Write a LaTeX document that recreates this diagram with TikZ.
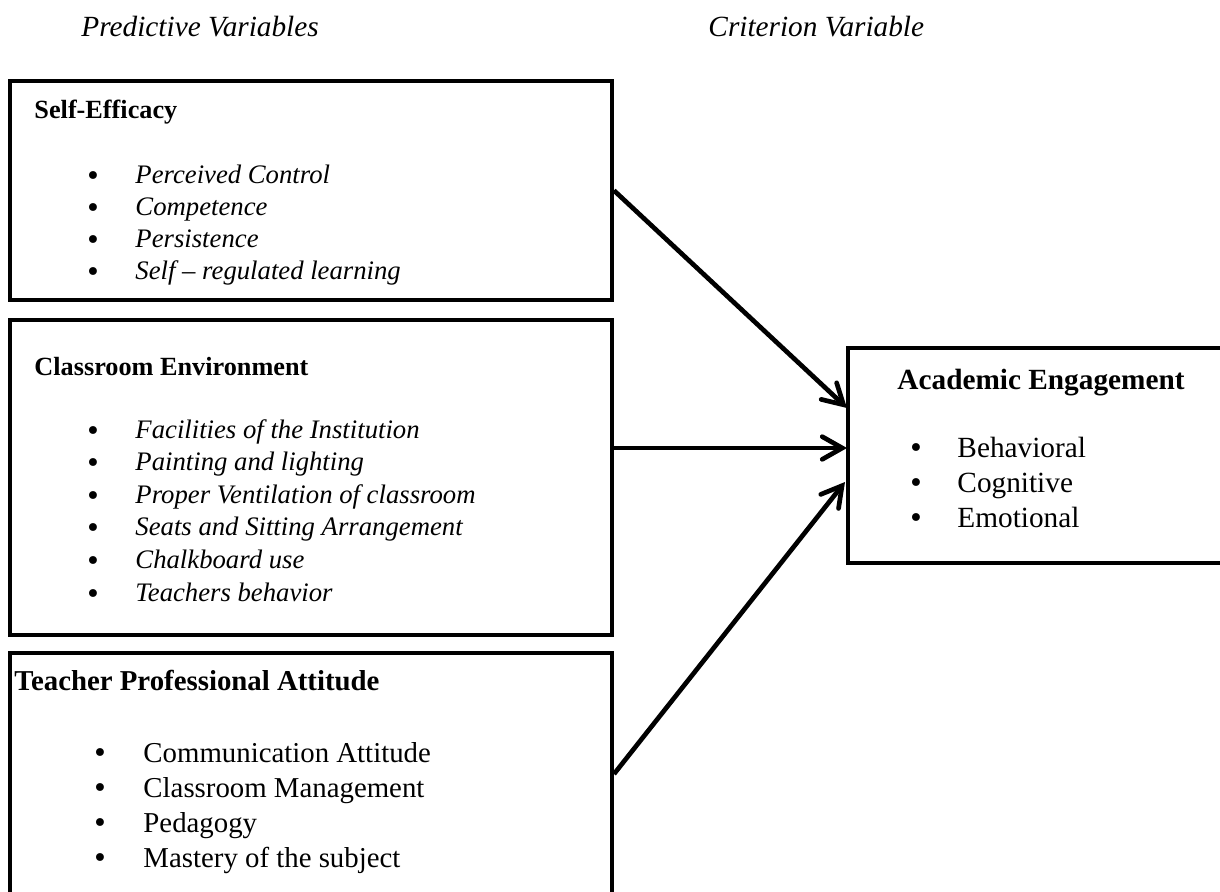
\documentclass[tikz,border=0pt]{standalone}
\usepackage{fontspec}
\setmainfont{Liberation Serif}
\newfontfamily\dotfont{DejaVu Sans}
\usepackage{tikz}
\usetikzlibrary{arrows.meta,positioning}
\def\px{0.015cm}

\begin{document}
\begin{tikzpicture}[
    x=0.015cm, y=-0.015cm,
    box/.style={draw=black, line width=1.7pt, inner sep=0pt},
    arrow/.style={-{Straight Barb[length=3mm, width=3.4mm, line cap=round]}, line width=2pt, black},
    title/.style={font=\fontsize{12.5}{15}\selectfont\itshape, anchor=base west, inner sep=0pt},
    head/.style={font=\fontsize{11.2}{13}\selectfont\bfseries, anchor=base west, inner sep=0pt},
    item/.style={font=\fontsize{11.4}{14}\selectfont\itshape, anchor=base west, inner sep=0pt},
    dot/.style={font=\dotfont\fontsize{11.5}{12}\selectfont, anchor=base, inner sep=0pt}
]
\path[use as bounding box, clip] (0,0) rectangle (1220,892);
% column titles
\node[title] (pred) at (81,36) {Predictive Variables};
\node[title] (crit) at (708,36) {Criterion Variable};
% BOX 1: Self-Efficacy
\node[box, minimum width=602*\px, minimum height=219*\px] (se) at (311,190.5) {};
\node[head] (se-h) at (34,118) {Self-Efficacy};
\foreach \txt [count=\i from 0] in {Perceived Control, Competence, Persistence, Self -- regulated learning} {
    \node[dot] (se-b\i) at (93,{185+32.3*\i}) {\textbullet};
    \node[item] (se-i\i) at (135,{183+32.3*\i}) {\txt};
}
% BOX 2: Classroom Environment
\node[box, minimum width=602*\px, minimum height=315*\px] (ce) at (311,477.5) {};
\node[head] (ce-h) at (34,375) {Classroom Environment};
\foreach \txt [count=\i from 0] in {Facilities of the Institution, Painting and lighting, Proper Ventilation of classroom, Seats and Sitting Arrangement, Chalkboard use, Teachers behavior} {
    \node[dot] (ce-b\i) at (93,{440+32.6*\i}) {\textbullet};
    \node[item] (ce-i\i) at (135,{438+32.6*\i}) {\txt};
}
% BOX 3: Teacher Professional Attitude
\node[box, minimum width=602*\px, minimum height=242*\px] (tpa) at (311,774) {};
\node[head, font=\fontsize{12.3}{15}\selectfont\bfseries] (tpa-h) at (14,690) {Teacher Professional Attitude};
\foreach \txt [count=\i from 0] in {Communication Attitude, Classroom Management, Pedagogy, Mastery of the subject} {
    \node[dot] (tpa-b\i) at (100,{762+35.3*\i}) {\textbullet};
    \node[item, font=\fontsize{12.3}{15}\selectfont] (tpa-i\i) at (143,{762+35.3*\i}) {\txt};
}
% BOX 4: Academic Engagement
\node[box, minimum width=384*\px, minimum height=215*\px] (ae) at (1040,455.5) {};
\node[head, font=\fontsize{12.5}{15}\selectfont\bfseries] (ae-h) at (897,389) {Academic Engagement};
\foreach \txt [count=\i from 0] in {Behavioral, Cognitive, Emotional} {
    \node[dot] (ae-b\i) at (916,{457+35*\i}) {\textbullet};
    \node[item, font=\fontsize{12.5}{15}\selectfont] (ae-i\i) at (957,{457+35*\i}) {\txt};
}
% arrows into the criterion box
\coordinate (in1) at (847,408);
\coordinate (in2) at (847,448);
\coordinate (in3) at (845,482);
\draw[arrow] (se.east) -- (in1);
\draw[arrow] (ce.east |- in2) -- (in2);
\draw[arrow] (tpa.east) -- (in3);
\end{tikzpicture}
\end{document}
